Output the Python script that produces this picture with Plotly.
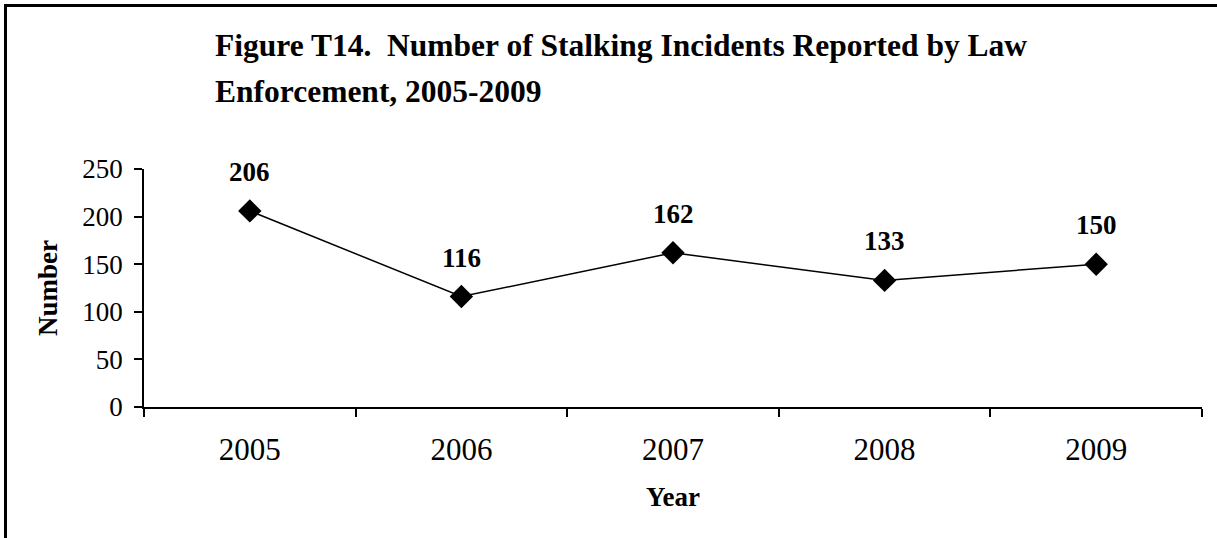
import plotly.graph_objects as go

years = ["2005", "2006", "2007", "2008", "2009"]
incidents = [206, 116, 162, 133, 150]
y_ticks = [0, 50, 100, 150, 200, 250]
title_lines = ["Figure T14.\u00a0 Number of Stalking Incidents Reported by Law",
               "Enforcement, 2005-2009"]

W, H = 1217, 538
L, R, T, B = 144, 15, 169, 131
pw, ph = W - L - R, H - T - B

def px_x(px):
    return (px - L) / pw

def px_y(py):
    return (H - B - py) / ph

FONT = "Liberation Serif, Times New Roman, serif"

fig = go.Figure()
fig.add_trace(go.Scatter(
    x=years, y=incidents, mode="lines+markers",
    line=dict(color="black", width=1.5),
    marker=dict(symbol="diamond", size=18, color="black"),
    cliponaxis=False, showlegend=False, hoverinfo="skip",
))

annotations = []
for i, v in enumerate(incidents):
    annotations.append(dict(
        x=i, y=v, xref="x", yref="y", text=str(v), showarrow=False,
        yshift=39, yanchor="middle",
        font=dict(family=FONT, size=27, color="black", weight="bold"),
    ))
for line, py in zip(title_lines, [45, 91]):
    annotations.append(dict(
        x=px_x(213), y=px_y(py), xref="paper", yref="paper", text=line,
        showarrow=False, xanchor="left", yanchor="middle",
        font=dict(family=FONT, size=31.5, color="black", weight="bold"),
    ))
annotations.append(dict(
    x=px_x(48), y=0.5, xref="paper", yref="paper", text="Number", textangle=-90,
    showarrow=False, xanchor="center", yanchor="middle",
    font=dict(family=FONT, size=27, color="black", weight="bold"),
))
annotations.append(dict(
    x=0.5, y=px_y(497), xref="paper", yref="paper", text="Year",
    showarrow=False, xanchor="center", yanchor="middle",
    font=dict(family=FONT, size=27, color="black", weight="bold"),
))

fig.update_layout(
    width=W, height=H,
    margin=dict(l=L, r=R, t=T, b=B, pad=0),
    paper_bgcolor="white", plot_bgcolor="white",
    font=dict(family=FONT, color="black"),
    annotations=annotations,
    shapes=[dict(type="rect", xref="paper", yref="paper",
                 x0=px_x(5.5), x1=px_x(1240), y0=px_y(5.5), y1=px_y(560),
                 line=dict(color="black", width=3), fillcolor="rgba(0,0,0,0)", layer="above")],
    xaxis=dict(
        type="category", tickson="boundaries", range=[-0.5, 4.5],
        showline=True, linecolor="black", linewidth=1.5,
        ticks="outside", ticklen=8, tickwidth=1.5, tickcolor="black",
        showgrid=False, zeroline=False,
        tickfont=dict(family=FONT, size=31, color="black"),
        ticklabelstandoff=14,
    ),
    yaxis=dict(
        range=[0, 250], tickvals=y_ticks,
        showline=True, linecolor="black", linewidth=1.5,
        ticks="outside", ticklen=8, tickwidth=1.5, tickcolor="black",
        showgrid=False, zeroline=False,
        tickfont=dict(family=FONT, size=27, color="black"),
        ticklabelstandoff=6,
    ),
)

fig.write_html("out.html", config={"displayModeBar": False},
               post_script="document.body.style.margin='0';document.body.style.overflow='hidden';")
